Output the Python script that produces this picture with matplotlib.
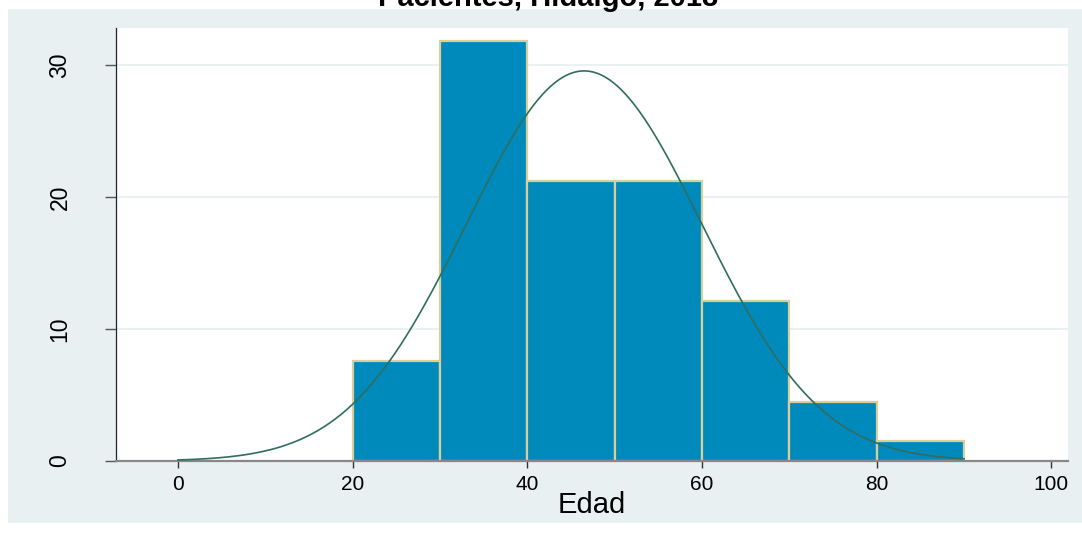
import numpy as np
import matplotlib
matplotlib.use('Agg')
import matplotlib.pyplot as plt
from matplotlib.patches import Rectangle

plt.rcParams['font.family'] = ['Liberation Sans', 'DejaVu Sans']

# -- data (percent of patients per 10-year age bin)
bin_left = [20, 30, 40, 50, 60, 70, 80]
bin_width = 10
pct = [7.6, 31.8, 21.2, 21.2, 12.1, 4.5, 1.5]

# fitted normal curve parameters
mu = 46.5
sd = 13.5

x_ticks = [0, 20, 40, 60, 80, 100]
y_ticks = [0, 10, 20, 30]
title = 'Pacientes, Hidalgo, 2018'
xlabel = 'Edad'

# -- colours
bg = '#e8f0f2'
bar_fill = '#0089bb'
bar_edge = '#d9cf9c'
curve_col = '#2f6e60'
grid_col = '#eaf1f3'

W, H = 1082, 535
fig = plt.figure(figsize=(W / 100, H / 100), dpi=100)
fig.patch.set_facecolor('white')

# outer graph region
fig.patches.append(Rectangle((8 / W, 1 - 523 / H), (W - 8) / W, (523 - 9) / H,
                             transform=fig.transFigure, facecolor=bg,
                             edgecolor='none', zorder=-5))

ax = fig.add_axes([116 / W, 1 - 461 / H, (1068 - 116) / W, (461 - 28) / H])
ax.set_zorder(2)
ax.set_facecolor('white')

ax.bar(bin_left, pct, width=bin_width, align='edge', color=bar_fill,
       edgecolor=bar_edge, linewidth=1.6, zorder=2)

xs = np.linspace(0, 90, 400)
ys = 100 * bin_width * np.exp(-0.5 * ((xs - mu) / sd) ** 2) / (sd * np.sqrt(2 * np.pi))
ax.plot(xs, ys, color=curve_col, lw=1.2, zorder=3)

ax.set_xlim(-7.1, 101.9)
ax.set_ylim(0, 32.8)

ax.set_xticks(x_ticks)
ax.set_yticks(y_ticks)
ax.set_yticklabels([str(v) for v in y_ticks], rotation=90, va='center')
ax.tick_params(axis='x', labelsize=15, length=5, width=1, color='#333333', pad=5)
ax.tick_params(axis='y', labelsize=16.5, length=8, width=1, color='#555555', pad=24)

for v in y_ticks[1:]:
    ax.axhline(v, color=grid_col, lw=1.5, zorder=1)

for s in ['top', 'right']:
    ax.spines[s].set_visible(False)
ax.spines['left'].set_color('#222222')
ax.spines['left'].set_linewidth(0.9)
ax.spines['bottom'].set_color('#888888')
ax.spines['bottom'].set_linewidth(1.6)

ax.set_xlabel(xlabel, fontsize=21, labelpad=-2)

fig.text(548 / W, 1 - 6 / H, title, ha='center', va='baseline',
         fontsize=21, fontweight='bold', zorder=5)

fig.savefig('out.png', dpi=100)
